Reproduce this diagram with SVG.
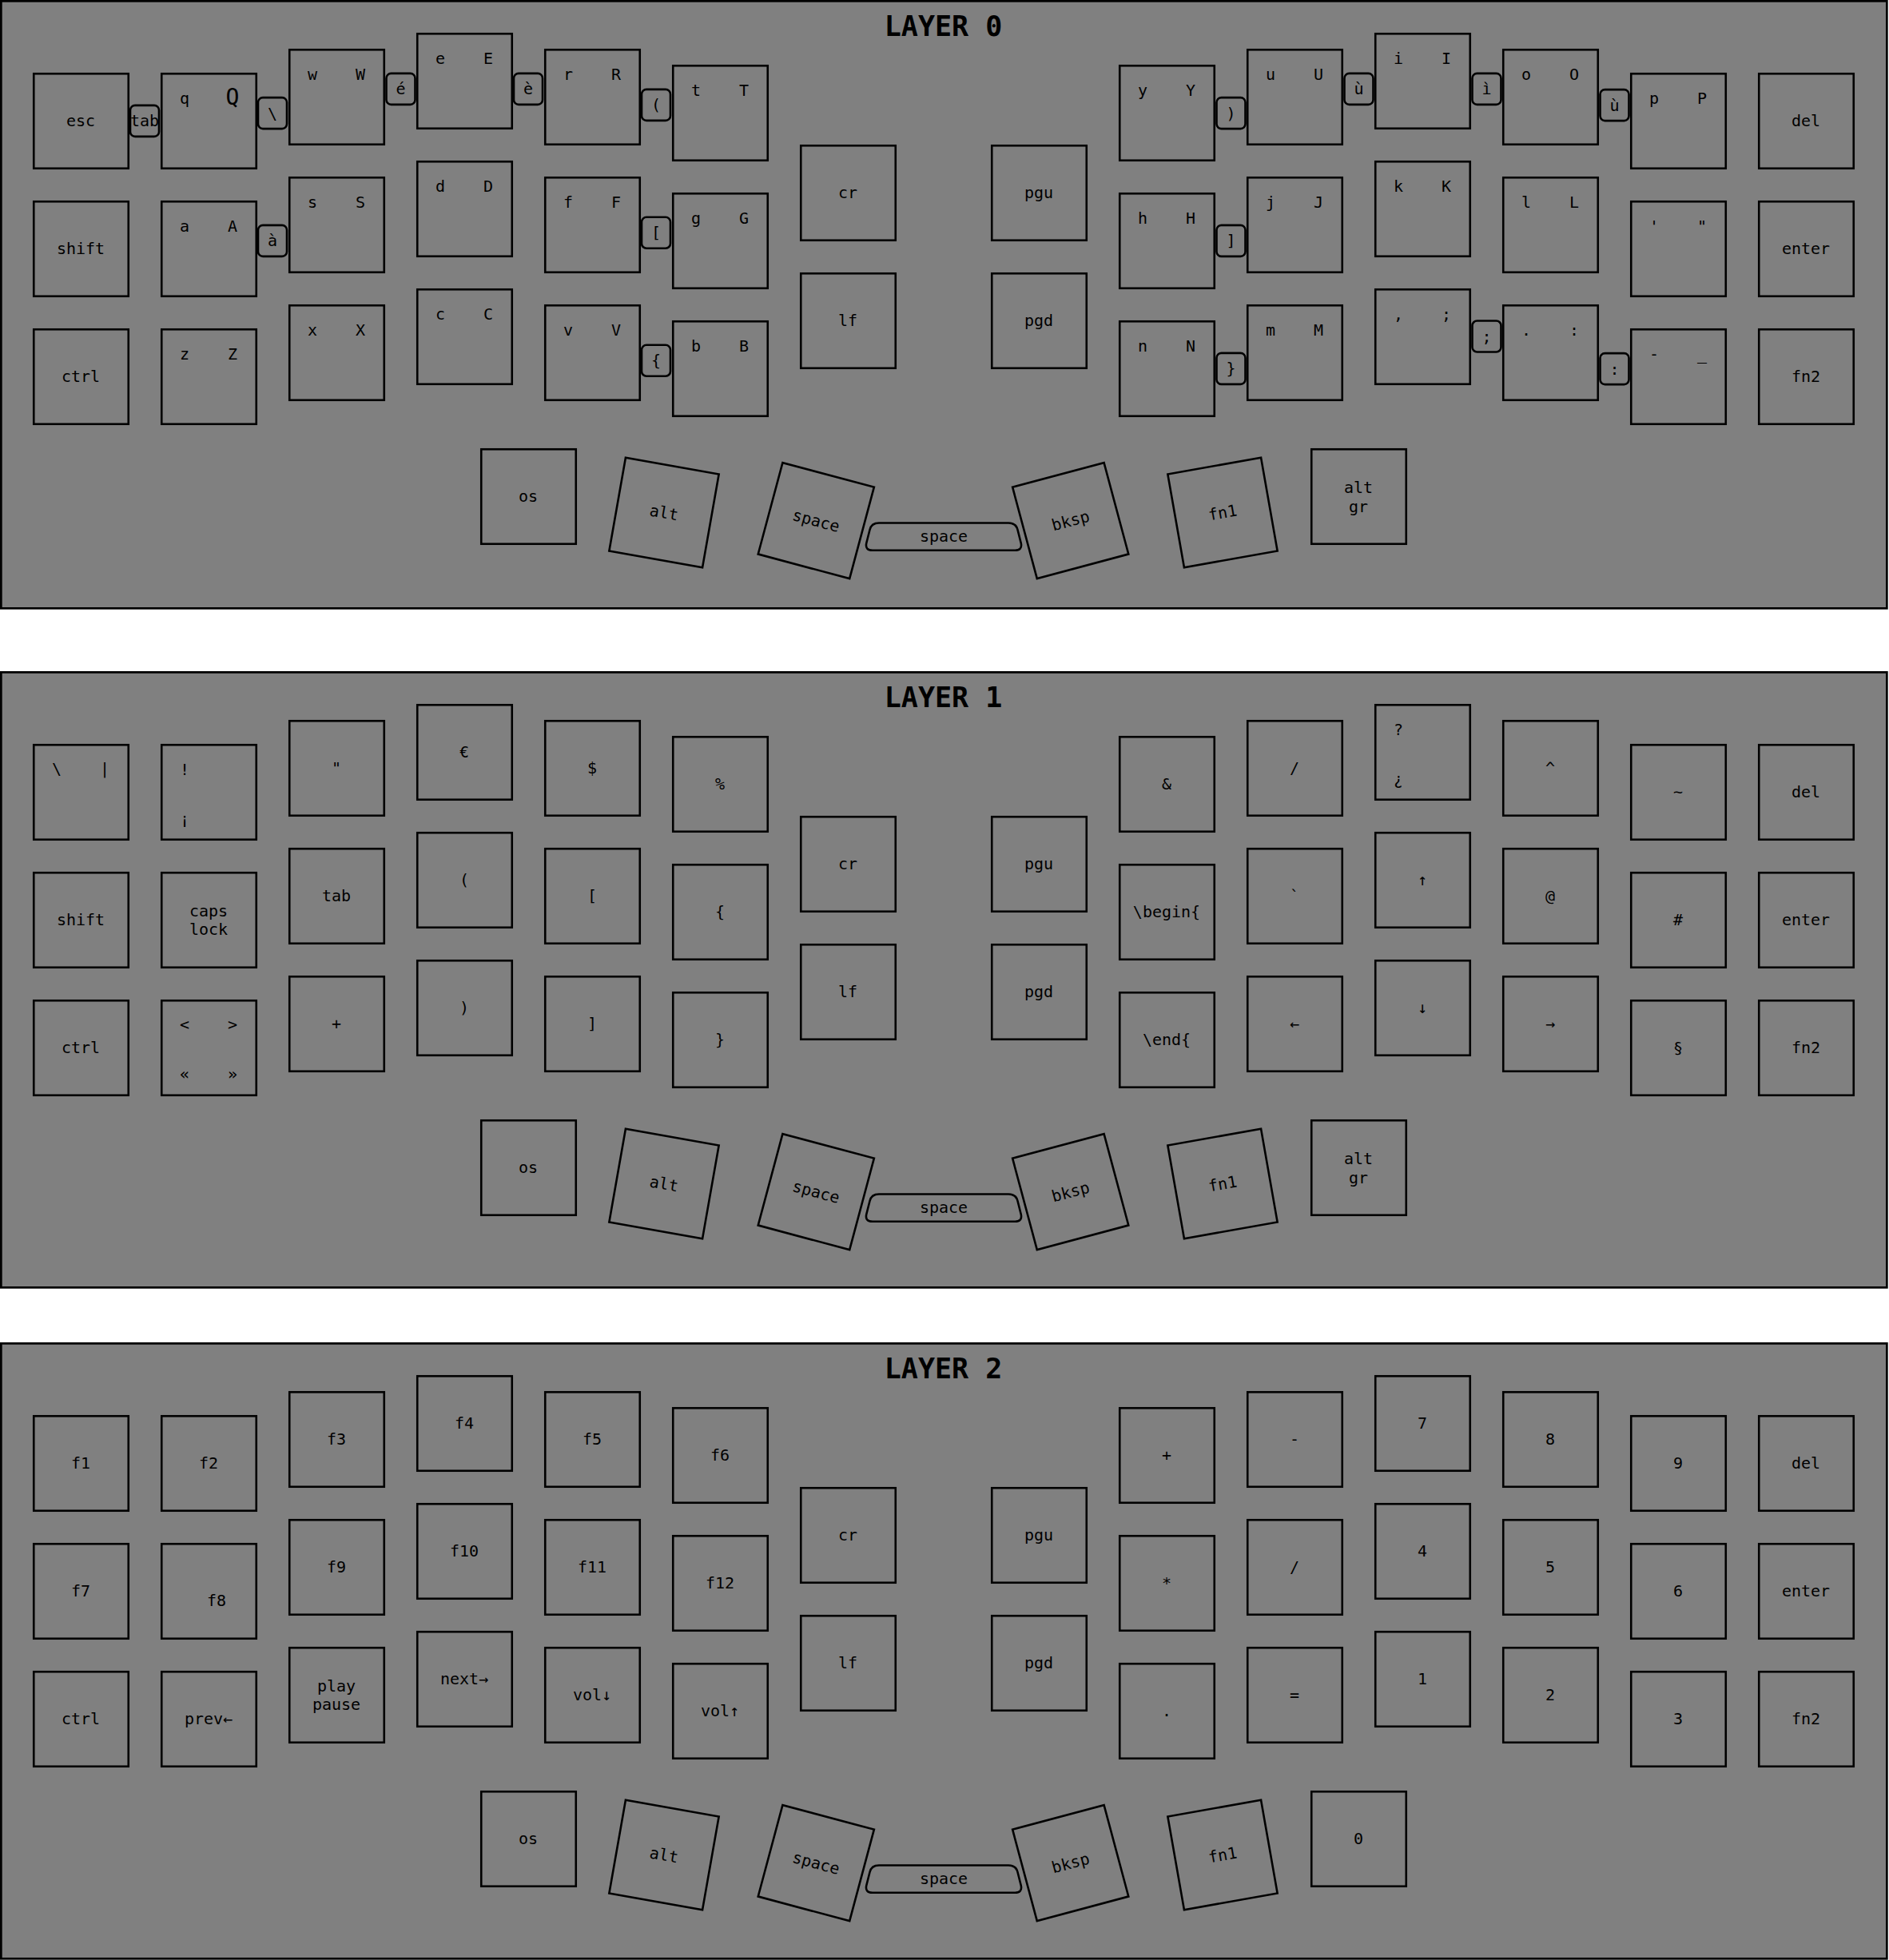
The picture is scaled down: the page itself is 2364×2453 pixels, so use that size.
<svg xmlns="http://www.w3.org/2000/svg" width="2364" height="2453" viewBox="0 0 2364 2453">
<style>
.bg{fill:#ffffff}
.panel{fill:#808080;stroke:#000;stroke-width:2.7}
.k{fill:none;stroke:#000;stroke-width:2.6}
.c{fill:#808080;stroke:#000;stroke-width:2.6}
.sb{fill:none;stroke:#000;stroke-width:2.6;stroke-linejoin:round}
text{font-family:"DejaVu Sans Mono","Liberation Mono",monospace;font-size:20px;fill:#000}
.t{text-anchor:middle;dominant-baseline:central}
.big{font-size:28px}
.title{font-weight:bold;font-size:35px;text-anchor:middle}
</style>
<defs>
<rect id="kb" class="k" x="1.25" y="1.25" width="118.5" height="118.5"/>
<rect id="kr" class="k" x="-59.25" y="-59.25" width="118.5" height="118.5"/>
<rect id="cb" class="c" x="-18" y="-19.5" width="36" height="39" rx="6"/>
<path id="spbar" class="sb" d="M1100,654.5 L1262,654.5 Q1271.5,654.5 1273.5,663 L1277.8,680 Q1279.5,688.8 1270,688.8 L1092,688.8 Q1082.5,688.8 1084.2,680 L1088.5,663 Q1090.5,654.5 1100,654.5 Z"/>
</defs>
<rect class="bg" x="0" y="0" width="2364" height="2453"/>

<!-- LAYER 0 -->
<g id="layer0">
<rect class="panel" x="1.35" y="1.35" width="2360" height="760"/>
<text class="title" x="1180.5" y="44.6">LAYER 0</text>
<g id="l0-esc" transform="translate(41,91)"><use href="#kb"/><text class="t" x="60" y="60">esc</text></g>
<g id="l0-shift" transform="translate(41,251)"><use href="#kb"/><text class="t" x="60" y="60">shift</text></g>
<g id="l0-ctrl" transform="translate(41,411)"><use href="#kb"/><text class="t" x="60" y="60">ctrl</text></g>
<g id="l0-q" transform="translate(201,91)"><use href="#kb"/><text class="t" x="30" y="32">q</text><text class="t big" x="90" y="30">Q</text></g>
<g id="l0-a" transform="translate(201,251)"><use href="#kb"/><text class="t" x="30" y="32">a</text><text class="t" x="90" y="32">A</text></g>
<g id="l0-z" transform="translate(201,411)"><use href="#kb"/><text class="t" x="30" y="32">z</text><text class="t" x="90" y="32">Z</text></g>
<g id="l0-w" transform="translate(361,61)"><use href="#kb"/><text class="t" x="30" y="32">w</text><text class="t" x="90" y="32">W</text></g>
<g id="l0-s" transform="translate(361,221)"><use href="#kb"/><text class="t" x="30" y="32">s</text><text class="t" x="90" y="32">S</text></g>
<g id="l0-x" transform="translate(361,381)"><use href="#kb"/><text class="t" x="30" y="32">x</text><text class="t" x="90" y="32">X</text></g>
<g id="l0-e" transform="translate(521,41)"><use href="#kb"/><text class="t" x="30" y="32">e</text><text class="t" x="90" y="32">E</text></g>
<g id="l0-d" transform="translate(521,201)"><use href="#kb"/><text class="t" x="30" y="32">d</text><text class="t" x="90" y="32">D</text></g>
<g id="l0-c" transform="translate(521,361)"><use href="#kb"/><text class="t" x="30" y="32">c</text><text class="t" x="90" y="32">C</text></g>
<g id="l0-r" transform="translate(681,61)"><use href="#kb"/><text class="t" x="30" y="32">r</text><text class="t" x="90" y="32">R</text></g>
<g id="l0-f" transform="translate(681,221)"><use href="#kb"/><text class="t" x="30" y="32">f</text><text class="t" x="90" y="32">F</text></g>
<g id="l0-v" transform="translate(681,381)"><use href="#kb"/><text class="t" x="30" y="32">v</text><text class="t" x="90" y="32">V</text></g>
<g id="l0-t" transform="translate(841,81)"><use href="#kb"/><text class="t" x="30" y="32">t</text><text class="t" x="90" y="32">T</text></g>
<g id="l0-g" transform="translate(841,241)"><use href="#kb"/><text class="t" x="30" y="32">g</text><text class="t" x="90" y="32">G</text></g>
<g id="l0-b" transform="translate(841,401)"><use href="#kb"/><text class="t" x="30" y="32">b</text><text class="t" x="90" y="32">B</text></g>
<g id="l0-cr" transform="translate(1001,181)"><use href="#kb"/><text class="t" x="60" y="60">cr</text></g>
<g id="l0-lf" transform="translate(1001,341)"><use href="#kb"/><text class="t" x="60" y="60">lf</text></g>
<g id="l0-pgu" transform="translate(1240,181)"><use href="#kb"/><text class="t" x="60" y="60">pgu</text></g>
<g id="l0-pgd" transform="translate(1240,341)"><use href="#kb"/><text class="t" x="60" y="60">pgd</text></g>
<g id="l0-y" transform="translate(1400,81)"><use href="#kb"/><text class="t" x="30" y="32">y</text><text class="t" x="90" y="32">Y</text></g>
<g id="l0-h" transform="translate(1400,241)"><use href="#kb"/><text class="t" x="30" y="32">h</text><text class="t" x="90" y="32">H</text></g>
<g id="l0-n" transform="translate(1400,401)"><use href="#kb"/><text class="t" x="30" y="32">n</text><text class="t" x="90" y="32">N</text></g>
<g id="l0-u" transform="translate(1560,61)"><use href="#kb"/><text class="t" x="30" y="32">u</text><text class="t" x="90" y="32">U</text></g>
<g id="l0-j" transform="translate(1560,221)"><use href="#kb"/><text class="t" x="30" y="32">j</text><text class="t" x="90" y="32">J</text></g>
<g id="l0-m" transform="translate(1560,381)"><use href="#kb"/><text class="t" x="30" y="32">m</text><text class="t" x="90" y="32">M</text></g>
<g id="l0-i" transform="translate(1720,41)"><use href="#kb"/><text class="t" x="30" y="32">i</text><text class="t" x="90" y="32">I</text></g>
<g id="l0-k" transform="translate(1720,201)"><use href="#kb"/><text class="t" x="30" y="32">k</text><text class="t" x="90" y="32">K</text></g>
<g id="l0-comma" transform="translate(1720,361)"><use href="#kb"/><text class="t" x="30" y="32">,</text><text class="t" x="90" y="32">;</text></g>
<g id="l0-o" transform="translate(1880,61)"><use href="#kb"/><text class="t" x="30" y="32">o</text><text class="t" x="90" y="32">O</text></g>
<g id="l0-l" transform="translate(1880,221)"><use href="#kb"/><text class="t" x="30" y="32">l</text><text class="t" x="90" y="32">L</text></g>
<g id="l0-dot" transform="translate(1880,381)"><use href="#kb"/><text class="t" x="30" y="32">.</text><text class="t" x="90" y="32">:</text></g>
<g id="l0-p" transform="translate(2040,91)"><use href="#kb"/><text class="t" x="30" y="32">p</text><text class="t" x="90" y="32">P</text></g>
<g id="l0-quote" transform="translate(2040,251)"><use href="#kb"/><text class="t" x="30" y="32">'</text><text class="t" x="90" y="32">"</text></g>
<g id="l0-minus" transform="translate(2040,411)"><use href="#kb"/><text class="t" x="30" y="32">-</text><text class="t" x="90" y="32">_</text></g>
<g id="l0-del" transform="translate(2200,91)"><use href="#kb"/><text class="t" x="60" y="60">del</text></g>
<g id="l0-enter" transform="translate(2200,251)"><use href="#kb"/><text class="t" x="60" y="60">enter</text></g>
<g id="l0-fn2" transform="translate(2200,411)"><use href="#kb"/><text class="t" x="60" y="60">fn2</text></g>
<g id="l0-os" transform="translate(601,561)"><use href="#kb"/><text class="t" x="60" y="60">os</text></g>
<g id="l0-alt" transform="translate(831,641.5) rotate(10)"><use href="#kr"/><text class="t" x="0" y="0">alt</text></g>
<g id="l0-space" transform="translate(1021.3,651.6) rotate(15)"><use href="#kr"/><text class="t" x="0" y="0">space</text></g>
<g id="l0-spacebar"><use href="#spbar"/><text class="t" x="1181" y="671">space</text></g>
<g id="l0-bksp" transform="translate(1339.7,651.6) rotate(-15)"><use href="#kr"/><text class="t" x="0" y="0">bksp</text></g>
<g id="l0-fn1" transform="translate(1530,641.5) rotate(-10)"><use href="#kr"/><text class="t" x="0" y="0">fn1</text></g>
<g id="l0-altgr" transform="translate(1640,561)"><use href="#kb"/><text class="t" x="60" y="48.5">alt</text><text class="t" x="60" y="72.5">gr</text></g>
<g id="l0-c-tab" transform="translate(181,151.4)"><use href="#cb"/><text class="t">tab</text></g>
<g id="l0-c-bslash" transform="translate(341,141.6)"><use href="#cb"/><text class="t">\</text></g>
<g id="l0-c-eacute" transform="translate(501.5,111.4)"><use href="#cb"/><text class="t">é</text></g>
<g id="l0-c-egrave" transform="translate(661,111.4)"><use href="#cb"/><text class="t">è</text></g>
<g id="l0-c-lparen" transform="translate(821,131.4)"><use href="#cb"/><text class="t">(</text></g>
<g id="l0-c-agrave" transform="translate(341,301.4)"><use href="#cb"/><text class="t">à</text></g>
<g id="l0-c-lbrack" transform="translate(821,291.3)"><use href="#cb"/><text class="t">[</text></g>
<g id="l0-c-lbrace" transform="translate(821,451.3)"><use href="#cb"/><text class="t">{</text></g>
<g id="l0-c-rparen" transform="translate(1540.5,141.6)"><use href="#cb"/><text class="t">)</text></g>
<g id="l0-c-ugrave1" transform="translate(1700.5,111.4)"><use href="#cb"/><text class="t">ù</text></g>
<g id="l0-c-igrave" transform="translate(1860.5,111.4)"><use href="#cb"/><text class="t">ì</text></g>
<g id="l0-c-ugrave2" transform="translate(2020.5,131.6)"><use href="#cb"/><text class="t">ù</text></g>
<g id="l0-c-rbrack" transform="translate(1540.5,301.4)"><use href="#cb"/><text class="t">]</text></g>
<g id="l0-c-rbrace" transform="translate(1540.5,461.4)"><use href="#cb"/><text class="t">}</text></g>
<g id="l0-c-semi" transform="translate(1860.5,421)"><use href="#cb"/><text class="t">;</text></g>
<g id="l0-c-colon" transform="translate(2020.5,461.6)"><use href="#cb"/><text class="t">:</text></g>
</g>

<!-- LAYER 1 -->
<g id="layer1" transform="translate(0,840)">
<rect class="panel" x="1.35" y="1.35" width="2360" height="770"/>
<text class="title" x="1180.5" y="44.6">LAYER 1</text>
<g id="l1-bslash" transform="translate(41,91)"><use href="#kb"/><text class="t" x="30" y="31">\</text><text class="t" x="90" y="31">|</text></g>
<g id="l1-shift" transform="translate(41,251)"><use href="#kb"/><text class="t" x="60" y="60">shift</text></g>
<g id="l1-ctrl" transform="translate(41,411)"><use href="#kb"/><text class="t" x="60" y="60">ctrl</text></g>
<g id="l1-excl" transform="translate(201,91)"><use href="#kb"/><text class="t" x="30" y="32">!</text><text class="t" x="30" y="94">¡</text></g>
<g id="l1-caps" transform="translate(201,251)"><use href="#kb"/><text class="t" x="60" y="49">caps</text><text class="t" x="60" y="72">lock</text></g>
<g id="l1-angle" transform="translate(201,411)"><use href="#kb"/><text class="t" x="30" y="31">&lt;</text><text class="t" x="90" y="31">&gt;</text><text class="t" x="30" y="93">«</text><text class="t" x="90" y="93">»</text></g>
<g id="l1-dquote" transform="translate(361,61)"><use href="#kb"/><text class="t" x="60" y="60">"</text></g>
<g id="l1-tab" transform="translate(361,221)"><use href="#kb"/><text class="t" x="60" y="60">tab</text></g>
<g id="l1-plus" transform="translate(361,381)"><use href="#kb"/><text class="t" x="60" y="60">+</text></g>
<g id="l1-euro" transform="translate(521,41)"><use href="#kb"/><text class="t" x="60" y="60">€</text></g>
<g id="l1-lparen" transform="translate(521,201)"><use href="#kb"/><text class="t" x="60" y="60">(</text></g>
<g id="l1-rparen" transform="translate(521,361)"><use href="#kb"/><text class="t" x="60" y="60">)</text></g>
<g id="l1-dollar" transform="translate(681,61)"><use href="#kb"/><text class="t" x="60" y="60">$</text></g>
<g id="l1-lbrack" transform="translate(681,221)"><use href="#kb"/><text class="t" x="60" y="60">[</text></g>
<g id="l1-rbrack" transform="translate(681,381)"><use href="#kb"/><text class="t" x="60" y="60">]</text></g>
<g id="l1-pct" transform="translate(841,81)"><use href="#kb"/><text class="t" x="60" y="60">%</text></g>
<g id="l1-lbrace" transform="translate(841,241)"><use href="#kb"/><text class="t" x="60" y="60">{</text></g>
<g id="l1-rbrace" transform="translate(841,401)"><use href="#kb"/><text class="t" x="60" y="60">}</text></g>
<g id="l1-cr" transform="translate(1001,181)"><use href="#kb"/><text class="t" x="60" y="60">cr</text></g>
<g id="l1-lf" transform="translate(1001,341)"><use href="#kb"/><text class="t" x="60" y="60">lf</text></g>
<g id="l1-pgu" transform="translate(1240,181)"><use href="#kb"/><text class="t" x="60" y="60">pgu</text></g>
<g id="l1-pgd" transform="translate(1240,341)"><use href="#kb"/><text class="t" x="60" y="60">pgd</text></g>
<g id="l1-amp" transform="translate(1400,81)"><use href="#kb"/><text class="t" x="60" y="60">&amp;</text></g>
<g id="l1-begin" transform="translate(1400,241)"><use href="#kb"/><text class="t" x="60" y="60">\begin{</text></g>
<g id="l1-end" transform="translate(1400,401)"><use href="#kb"/><text class="t" x="60" y="60">\end{</text></g>
<g id="l1-slash" transform="translate(1560,61)"><use href="#kb"/><text class="t" x="60" y="60">/</text></g>
<g id="l1-grave" transform="translate(1560,221)"><use href="#kb"/><text class="t" x="60" y="60">`</text></g>
<g id="l1-left" transform="translate(1560,381)"><use href="#kb"/><text class="t" x="60" y="60">←</text></g>
<g id="l1-quest" transform="translate(1720,41)"><use href="#kb"/><text class="t" x="30" y="31.5">?</text><text class="t" x="30" y="94">¿</text></g>
<g id="l1-up" transform="translate(1720,201)"><use href="#kb"/><text class="t" x="60" y="60">↑</text></g>
<g id="l1-down" transform="translate(1720,361)"><use href="#kb"/><text class="t" x="60" y="60">↓</text></g>
<g id="l1-caret" transform="translate(1880,61)"><use href="#kb"/><text class="t" x="60" y="60">^</text></g>
<g id="l1-at" transform="translate(1880,221)"><use href="#kb"/><text class="t" x="60" y="60">@</text></g>
<g id="l1-right" transform="translate(1880,381)"><use href="#kb"/><text class="t" x="60" y="60">→</text></g>
<g id="l1-tilde" transform="translate(2040,91)"><use href="#kb"/><text class="t" x="60" y="60">~</text></g>
<g id="l1-hash" transform="translate(2040,251)"><use href="#kb"/><text class="t" x="60" y="60">#</text></g>
<g id="l1-sect" transform="translate(2040,411)"><use href="#kb"/><text class="t" x="60" y="60">§</text></g>
<g id="l1-del" transform="translate(2200,91)"><use href="#kb"/><text class="t" x="60" y="60">del</text></g>
<g id="l1-enter" transform="translate(2200,251)"><use href="#kb"/><text class="t" x="60" y="60">enter</text></g>
<g id="l1-fn2" transform="translate(2200,411)"><use href="#kb"/><text class="t" x="60" y="60">fn2</text></g>
<g id="l1-os" transform="translate(601,561)"><use href="#kb"/><text class="t" x="60" y="60">os</text></g>
<g id="l1-alt" transform="translate(831,641.5) rotate(10)"><use href="#kr"/><text class="t" x="0" y="0">alt</text></g>
<g id="l1-space" transform="translate(1021.3,651.6) rotate(15)"><use href="#kr"/><text class="t" x="0" y="0">space</text></g>
<g id="l1-spacebar"><use href="#spbar"/><text class="t" x="1181" y="671">space</text></g>
<g id="l1-bksp" transform="translate(1339.7,651.6) rotate(-15)"><use href="#kr"/><text class="t" x="0" y="0">bksp</text></g>
<g id="l1-fn1" transform="translate(1530,641.5) rotate(-10)"><use href="#kr"/><text class="t" x="0" y="0">fn1</text></g>
<g id="l1-altgr" transform="translate(1640,561)"><use href="#kb"/><text class="t" x="60" y="48.5">alt</text><text class="t" x="60" y="72.5">gr</text></g>
</g>

<!-- LAYER 2 -->
<g id="layer2" transform="translate(0,1680)">
<rect class="panel" x="1.35" y="1.35" width="2360" height="770"/>
<text class="title" x="1180.5" y="44.6">LAYER 2</text>
<g id="l2-f1" transform="translate(41,91)"><use href="#kb"/><text class="t" x="60" y="60">f1</text></g>
<g id="l2-f7" transform="translate(41,251)"><use href="#kb"/><text class="t" x="60" y="60">f7</text></g>
<g id="l2-ctrl" transform="translate(41,411)"><use href="#kb"/><text class="t" x="60" y="60">ctrl</text></g>
<g id="l2-f2" transform="translate(201,91)"><use href="#kb"/><text class="t" x="60" y="60">f2</text></g>
<g id="l2-f8" transform="translate(201,251)"><use href="#kb"/><text class="t" x="70" y="71.5">f8</text></g>
<g id="l2-prev" transform="translate(201,411)"><use href="#kb"/><text class="t" x="60" y="60">prev←</text></g>
<g id="l2-f3" transform="translate(361,61)"><use href="#kb"/><text class="t" x="60" y="60">f3</text></g>
<g id="l2-f9" transform="translate(361,221)"><use href="#kb"/><text class="t" x="60" y="60">f9</text></g>
<g id="l2-play" transform="translate(361,381)"><use href="#kb"/><text class="t" x="60" y="49">play</text><text class="t" x="60" y="72">pause</text></g>
<g id="l2-f4" transform="translate(521,41)"><use href="#kb"/><text class="t" x="60" y="60">f4</text></g>
<g id="l2-f10" transform="translate(521,201)"><use href="#kb"/><text class="t" x="60" y="60">f10</text></g>
<g id="l2-next" transform="translate(521,361)"><use href="#kb"/><text class="t" x="60" y="60">next→</text></g>
<g id="l2-f5" transform="translate(681,61)"><use href="#kb"/><text class="t" x="60" y="60">f5</text></g>
<g id="l2-f11" transform="translate(681,221)"><use href="#kb"/><text class="t" x="60" y="60">f11</text></g>
<g id="l2-voldn" transform="translate(681,381)"><use href="#kb"/><text class="t" x="60" y="60">vol↓</text></g>
<g id="l2-f6" transform="translate(841,81)"><use href="#kb"/><text class="t" x="60" y="60">f6</text></g>
<g id="l2-f12" transform="translate(841,241)"><use href="#kb"/><text class="t" x="60" y="60">f12</text></g>
<g id="l2-volup" transform="translate(841,401)"><use href="#kb"/><text class="t" x="60" y="60">vol↑</text></g>
<g id="l2-cr" transform="translate(1001,181)"><use href="#kb"/><text class="t" x="60" y="60">cr</text></g>
<g id="l2-lf" transform="translate(1001,341)"><use href="#kb"/><text class="t" x="60" y="60">lf</text></g>
<g id="l2-pgu" transform="translate(1240,181)"><use href="#kb"/><text class="t" x="60" y="60">pgu</text></g>
<g id="l2-pgd" transform="translate(1240,341)"><use href="#kb"/><text class="t" x="60" y="60">pgd</text></g>
<g id="l2-plus" transform="translate(1400,81)"><use href="#kb"/><text class="t" x="60" y="60">+</text></g>
<g id="l2-star" transform="translate(1400,241)"><use href="#kb"/><text class="t" x="60" y="60">*</text></g>
<g id="l2-dot" transform="translate(1400,401)"><use href="#kb"/><text class="t" x="60" y="60">.</text></g>
<g id="l2-minus" transform="translate(1560,61)"><use href="#kb"/><text class="t" x="60" y="60">-</text></g>
<g id="l2-slash" transform="translate(1560,221)"><use href="#kb"/><text class="t" x="60" y="60">/</text></g>
<g id="l2-eq" transform="translate(1560,381)"><use href="#kb"/><text class="t" x="60" y="60">=</text></g>
<g id="l2-7" transform="translate(1720,41)"><use href="#kb"/><text class="t" x="60" y="60">7</text></g>
<g id="l2-4" transform="translate(1720,201)"><use href="#kb"/><text class="t" x="60" y="60">4</text></g>
<g id="l2-1" transform="translate(1720,361)"><use href="#kb"/><text class="t" x="60" y="60">1</text></g>
<g id="l2-8" transform="translate(1880,61)"><use href="#kb"/><text class="t" x="60" y="60">8</text></g>
<g id="l2-5" transform="translate(1880,221)"><use href="#kb"/><text class="t" x="60" y="60">5</text></g>
<g id="l2-2" transform="translate(1880,381)"><use href="#kb"/><text class="t" x="60" y="60">2</text></g>
<g id="l2-9" transform="translate(2040,91)"><use href="#kb"/><text class="t" x="60" y="60">9</text></g>
<g id="l2-6" transform="translate(2040,251)"><use href="#kb"/><text class="t" x="60" y="60">6</text></g>
<g id="l2-3" transform="translate(2040,411)"><use href="#kb"/><text class="t" x="60" y="60">3</text></g>
<g id="l2-del" transform="translate(2200,91)"><use href="#kb"/><text class="t" x="60" y="60">del</text></g>
<g id="l2-enter" transform="translate(2200,251)"><use href="#kb"/><text class="t" x="60" y="60">enter</text></g>
<g id="l2-fn2" transform="translate(2200,411)"><use href="#kb"/><text class="t" x="60" y="60">fn2</text></g>
<g id="l2-os" transform="translate(601,561)"><use href="#kb"/><text class="t" x="60" y="60">os</text></g>
<g id="l2-alt" transform="translate(831,641.5) rotate(10)"><use href="#kr"/><text class="t" x="0" y="0">alt</text></g>
<g id="l2-space" transform="translate(1021.3,651.6) rotate(15)"><use href="#kr"/><text class="t" x="0" y="0">space</text></g>
<g id="l2-spacebar"><use href="#spbar"/><text class="t" x="1181" y="671">space</text></g>
<g id="l2-bksp" transform="translate(1339.7,651.6) rotate(-15)"><use href="#kr"/><text class="t" x="0" y="0">bksp</text></g>
<g id="l2-fn1" transform="translate(1530,641.5) rotate(-10)"><use href="#kr"/><text class="t" x="0" y="0">fn1</text></g>
<g id="l2-0" transform="translate(1640,561)"><use href="#kb"/><text class="t" x="60" y="60">0</text></g>
</g>
<g id="connectors"/>
</svg>
